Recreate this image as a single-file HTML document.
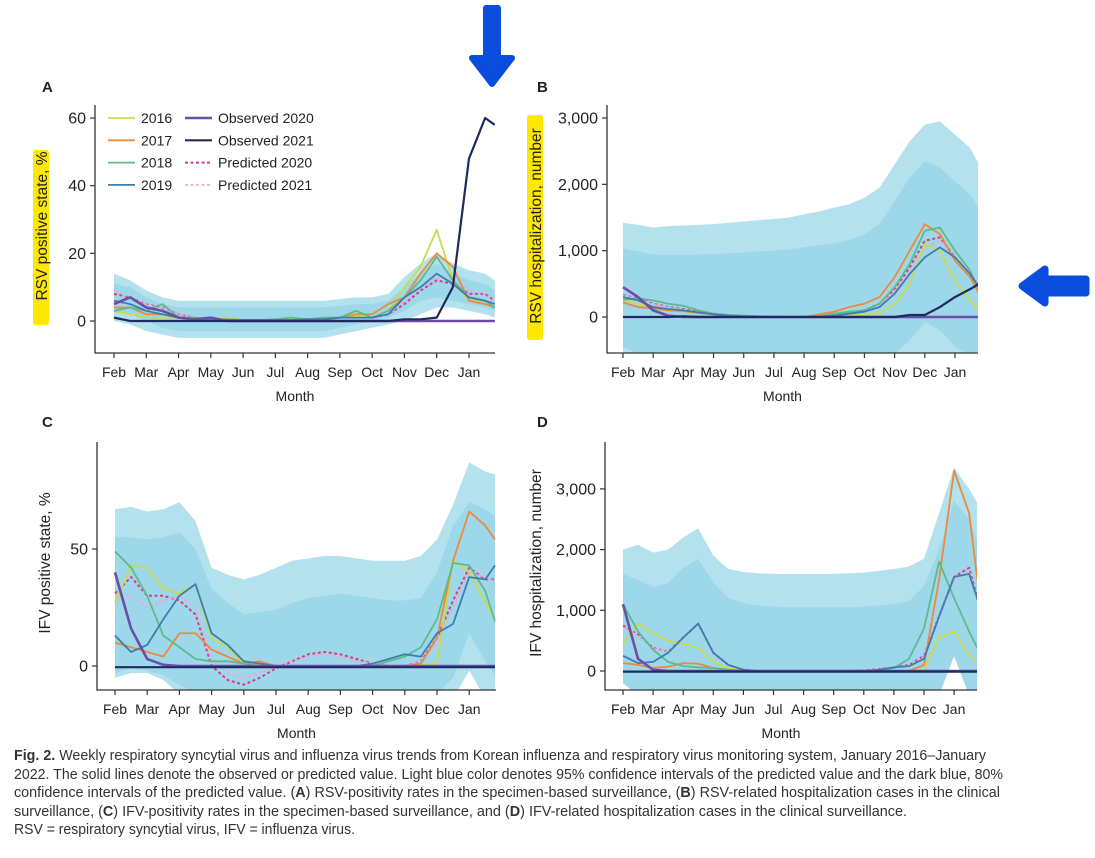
<!DOCTYPE html>
<html><head><meta charset="utf-8">
<style>
body{margin:0;background:#fff;width:1095px;height:858px;overflow:hidden;font-family:"Liberation Sans",sans-serif;}
#cap{position:absolute;left:14px;top:747px;width:1070px;font-family:"Liberation Sans Narrow","Liberation Sans",sans-serif;font-size:14.5px;line-height:18.6px;color:#333;}
#cap .ln{white-space:nowrap;transform-origin:0 0;height:18.6px;}
</style></head><body>
<svg id="fig" width="1095" height="858" style="position:absolute;left:0;top:0"></svg>
<div id="cap">
<div class="ln" data-w="986"><b>Fig. 2.</b> Weekly respiratory syncytial virus and influenza virus trends from Korean influenza and respiratory virus monitoring system, January 2016–January</div>
<div class="ln" data-w="1003">2022. The solid lines denote the observed or predicted value. Light blue color denotes 95% confidence intervals of the predicted value and the dark blue, 80%</div>
<div class="ln" data-w="1000">confidence intervals of the predicted value. (<b>A</b>) RSV-positivity rates in the specimen-based surveillance, (<b>B</b>) RSV-related hospitalization cases in the clinical</div>
<div class="ln" data-w="907">surveillance, (<b>C</b>) IFV-positivity rates in the specimen-based surveillance, and (<b>D</b>) IFV-related hospitalization cases in the clinical surveillance.</div>
<div class="ln" data-w="355">RSV = respiratory syncytial virus, IFV = influenza virus.</div>
</div>
<script>
const months=[0,0.5,1,1.5,2,2.5,3,3.5,4,4.5,5,5.5,6,6.5,7,7.5,8,8.5,9,9.5,10,10.5,11,11.5,11.8];
const monthLabels=["Feb","Mar","Apr","May","Jun","Jul","Aug","Sep","Oct","Nov","Dec","Jan"];
// Panel A
const A_up95=[14,12,9,7,6,6,6,6,6,6,6,6,6,6,6.5,7,7,8,13,17,20,17,15,14,12];
const A_up80=[11,10,7,5,4,4,4,4,4,4,4,4,4,4,4.5,5,5,6,10,14,17,14,12,11,9];
const A_lo80=[3,2,0,-2,-3,-3,-3,-3,-3,-3,-3,-3,-3,-3,-2,-1,0,1,3,6,7,6,5,4,3];
const A_lo95=[0,-1,-3,-4,-5,-5,-5,-5,-5,-5,-5,-5,-5,-5,-4,-3,-2,-1,0,2,4,4,3,2,1];
const A_2016=[3,2,1,1,1,1,0.5,1,0.3,0.3,0.3,0.5,0.5,1,1,1.5,1,3,10,16,27,12,6,6,4];
const A_2017=[4,4,2,2,1,1,0.5,0.5,0.3,0.3,0.3,0.3,0.3,0.5,1,2,2,5,7,14,20,16,6,5,4];
const A_2018=[3,4,3,5,1,1,0.5,0.5,0.3,0.3,0.5,1,0.5,1,1,3,1,3,7,12,19,12,7,6,4];
const A_2019=[6,5,3,2,1,0.5,0.3,0.3,0.3,0.3,0.3,0.3,0.5,0.5,1,1,1,2,7,10,14,11,7,6,5];
const A_obs20=[5,7,4,3,1,0.5,1,0,0,0,0,0,0,0,0,0,0,0,0,0,0,0,0,0,0];
const A_obs21=[1,0,0,0,0,0,0,0,0,0,0,0,0,0,0,0,0,0,0.5,0.5,1,10,48,60,58];
const A_pred20=[8,7,5,4,2,1,0.5,0.5,0.3,0.3,0.3,0.3,0.3,0.5,1,1.5,1,2,5,9,12,11,8,8,6];
const A_pred21=[9,7,5,4,2,1,0.5,0.5,0.3,0.3,0.3,0.3,0.3,0.5,1,1.5,1,2,6,10,13,12,9,8,6];
const A_ticks=[0,20,40,60];
// Panel B
const B_up95=[1420,1390,1350,1370,1380,1390,1400,1420,1440,1460,1480,1500,1550,1590,1650,1700,1800,1950,2300,2650,2900,2950,2750,2550,2300];
const B_up80=[1030,990,940,940,940,940,950,960,970,990,1000,1020,1050,1080,1110,1160,1250,1400,1750,2100,2350,2250,2050,1850,1650];
const B_lo80=[-450,-550,-560,-560,-560,-560,-560,-560,-560,-560,-560,-560,-560,-560,-560,-560,-560,-560,-560,-350,-80,-200,-450,-560,-560];
const B_lo95=[-600,-600,-600,-600,-600,-600,-600,-600,-600,-600,-600,-600,-600,-600,-600,-600,-600,-600,-600,-600,-600,-600,-600,-600,-600];
const B_2016=[250,200,120,100,80,60,40,30,20,10,5,0,0,0,0,20,40,60,200,500,1100,1000,550,250,100];
const B_2017=[220,150,130,100,90,60,40,30,20,10,5,0,0,40,80,150,200,300,600,1000,1400,1250,850,600,350];
const B_2018=[260,280,250,200,170,100,50,30,20,10,5,0,0,10,50,80,100,200,450,800,1300,1350,1000,700,400];
const B_2019=[300,250,150,120,100,70,40,20,10,5,0,0,0,5,20,50,80,150,350,650,900,1050,900,650,450];
const B_obs20=[450,300,100,20,0,0,0,0,0,0,0,0,0,0,0,0,0,0,0,0,0,0,0,0,0];
const B_obs21=[0,0,0,0,10,0,0,0,0,0,0,0,0,0,0,0,0,0,0,30,30,150,300,420,500];
const B_pred20=[330,280,200,150,120,80,50,30,15,10,5,0,0,10,30,60,100,200,400,750,1150,1200,900,650,400];
const B_pred21=[320,270,190,140,110,70,45,25,12,8,5,0,0,10,30,60,100,180,380,700,1050,1150,900,600,380];
const B_ticks=[0,1000,2000,3000];
// Panel C
const C_up95=[67,68,66,67,70,62,42,39,37,39,42,45,46,47,47,46,45,45,45,47,54,69,87,83,82];
const C_up80=[55,55,54,55,57,50,33,27,22,23,24,27,29,30,31,30,29,28,28,29,40,60,70,67,64];
const C_lo80=[-3,-1,-2,-4,-8,-12,-12,-12,-12,-12,-12,-12,-12,-12,-12,-12,-12,-12,-12,-12,-12,-5,14,2,-4];
const C_lo95=[-5,-3,-3,-6,-12,-14,-14,-14,-14,-14,-14,-14,-14,-14,-14,-14,-14,-14,-14,-14,-14,-14,-2,-14,-14];
const C_2016=[27,43,42,33,31,35,12,8,1,1,0,0,0,0,0,0,0,0,0,0,1,45,40,27,20];
const C_2017=[10,8,6,4,14,14,7,4,1,2,0,0,0,0,0,0,0,0,0,1,12,45,66,60,54];
const C_2018=[49,42,30,13,8,3,2,2,1,0,0,0,0,0,0,0,0,2,4,8,20,44,43,32,19];
const C_2019=[13,6,9,20,30,35,14,9,2,1,0,0,0,0,0,0,1,3,5,4,14,18,38,37,43];
const C_obs20=[40,16,3,0.5,0,0,0,0,0,0,0,0,0,0,0,0,0,0,0,0,0,0,0,0,0];
const C_obs21=[-0.5,-0.5,-0.5,-0.5,-0.5,-0.5,-0.5,-0.5,-0.5,-0.5,-0.5,-0.5,-0.5,-0.5,-0.5,-0.5,-0.5,-0.5,-0.5,-0.5,-0.5,-0.5,-0.5,-0.5,-0.5];
const C_pred20=[31,38,30,30,28,22,0,-6,-8,-5,-1,2,5,6,5,3,1,0,0,2,12,28,42,37,37];
const C_pred21=[30,30,25,28,30,25,3,-3,-5,-3,0,2,4,5,4,2,1,0,0,2,10,25,40,38,36];
const C_ticks=[0,50];
// Panel D
const D_up95=[2000,2080,1950,2000,2200,2350,1900,1680,1630,1610,1600,1600,1600,1600,1600,1610,1620,1650,1680,1720,1850,2600,3350,3000,2750];
const D_up80=[1600,1500,1380,1450,1700,1850,1450,1200,1120,1080,1060,1050,1050,1050,1050,1050,1060,1080,1100,1150,1400,2000,2800,2500,2100];
const D_lo80=[-200,-400,-400,-400,-400,-400,-400,-400,-400,-400,-400,-400,-400,-400,-400,-400,-400,-400,-400,-400,-400,-400,250,-400,-400];
const D_lo95=[-200,-400,-400,-400,-400,-400,-400,-400,-400,-400,-400,-400,-400,-400,-400,-400,-400,-400,-400,-400,-400,-400,250,-400,-400];
const D_2016=[450,780,620,500,450,380,150,50,10,0,0,0,0,0,0,0,0,0,0,0,20,550,650,250,130];
const D_2017=[130,100,50,70,130,120,50,20,0,0,0,0,0,0,0,0,0,0,0,0,100,1500,3300,2600,1400];
const D_2018=[1100,650,350,150,80,60,50,20,0,0,0,0,0,0,0,0,0,0,50,200,700,1800,1200,650,350];
const D_2019=[250,130,150,300,550,780,300,100,20,0,0,0,0,0,0,0,0,20,60,80,200,900,1550,1600,1150];
const D_obs20=[1100,200,20,0,0,0,0,0,0,0,0,0,0,0,0,0,0,0,0,0,0,0,0,0,0];
const D_obs21=[-10,-10,-10,-10,-10,-10,-10,-10,-10,-10,-10,-10,-10,-10,-10,-10,-10,-10,-10,-10,-10,-10,-10,-10,-10];
const D_pred20=[750,600,380,320,550,780,300,100,20,0,0,0,0,0,0,0,10,30,60,100,250,900,1550,1700,1150];
const D_pred21=[720,580,370,320,540,770,290,100,20,0,0,0,0,0,0,0,10,30,60,100,240,880,1500,1650,1130];
const D_ticks=[0,1000,2000,3000];

const NS="http://www.w3.org/2000/svg";
const svg=document.getElementById('fig');
function mk(tag,attrs,parent){const e=document.createElementNS(NS,tag);for(const k in attrs)e.setAttribute(k,attrs[k]);(parent||svg).appendChild(e);return e;}
const COL={y2016:"#c9db4c",y2017:"#f0883a",y2018:"#5cbb8c",y2019:"#3d7db3",o20:"#6b4fa6",o21:"#1e2a60",p20:"#d93b8c",p21:"#f2a6cc"};
const panels=[
 {id:"a",letter:"A",lx:42,ly:92,left:95,top:105,bottom:353,right:495,xF:114,dx:32.27,y0:321,ky:3.383,ticks:A_ticks,fmt:v=>String(v),title:"RSV positive state, %",tx:47,hl:true,
  up95:A_up95,up80:A_up80,lo80:A_lo80,lo95:A_lo95,s:[A_2016,A_2017,A_2018,A_2019,A_obs20,A_obs21,A_pred20,A_pred21]},
 {id:"b",letter:"B",lx:537,ly:92,left:607,top:105,bottom:353,right:978,xF:623,dx:30.18,y0:317,ky:0.06633,ticks:B_ticks,fmt:v=>v.toLocaleString('en-US'),title:"RSV hospitalization, number",tx:541,hl:true,
  up95:B_up95,up80:B_up80,lo80:B_lo80,lo95:B_lo95,s:[B_2016,B_2017,B_2018,B_2019,B_obs20,B_obs21,B_pred20,B_pred21]},
 {id:"c",letter:"C",lx:42,ly:427,left:97,top:442,bottom:690,right:496,xF:115,dx:32.2,y0:666,ky:2.34,ticks:C_ticks,fmt:v=>String(v),title:"IFV positive state, %",tx:50,
  up95:C_up95,up80:C_up80,lo80:C_lo80,lo95:C_lo95,s:[C_2016,C_2017,C_2018,C_2019,C_obs20,C_obs21,C_pred20,C_pred21]},
 {id:"d",letter:"D",lx:537,ly:427,left:605,top:442,bottom:690,right:977,xF:623,dx:30.1,y0:671,ky:0.0607,ticks:D_ticks,fmt:v=>v.toLocaleString('en-US'),title:"IFV hospitalization, number",tx:541,
  up95:D_up95,up80:D_up80,lo80:D_lo80,lo95:D_lo95,s:[D_2016,D_2017,D_2018,D_2019,D_obs20,D_obs21,D_pred20,D_pred21]}
];
const styles=[
 {c:COL.y2016,w:1.8},{c:COL.y2017,w:1.8},{c:COL.y2018,w:1.8},{c:COL.y2019,w:1.8},
 {c:COL.o20,w:2.6},{c:COL.o21,w:2.2},{c:COL.p20,w:2,d:"3,2.5"},{c:COL.p21,w:1.6,d:"3,2.5"}];
const sNames=["line-2016","line-2017","line-2018","line-2019","line-observed-2020","line-observed-2021","line-predicted-2020","line-predicted-2021"];
const drawOrder=[6,7,0,1,2,3,4,5];
panels.forEach(p=>{
 const X=m=>p.xF+m*p.dx, Y=v=>p.y0-v*p.ky;
 const g=mk('g',{});
 
 
 const cp=mk('clipPath',{id:'clip'+p.id},g);
 mk('rect',{x:p.left,y:p.top,width:p.right-p.left,height:p.bottom-p.top},cp);
 const pg=mk('g',{'clip-path':'url(#clip'+p.id+')'},g);
 function band(up,lo,fill,name){
  let d="M"+months.map((m,i)=>X(m)+","+Y(up[i])).join("L");
  for(let i=months.length-1;i>=0;i--) d+="L"+X(months[i])+","+Y(lo[i]);
  const e=mk('path',{d:d+"Z",fill:fill},pg);
  
  
 }
 band(p.up95,p.lo95,"#b4e1ee","ci-95-band");
 band(p.up80,p.lo80,"#9dd7ea","ci-80-band");
 drawOrder.forEach(k=>{
  const st=styles[k];
  const d="M"+months.map((m,i)=>X(m)+","+Y(p.s[k][i])).join("L");
  const e=mk('path',{d:d,fill:"none",stroke:st.c,'stroke-width':st.w,'stroke-linejoin':'round'},pg);
  if(st.d)e.setAttribute('stroke-dasharray',st.d);
  
  
 });
 const ax=mk('path',{d:`M${p.left},${p.top}V${p.bottom}H${p.right}`,fill:'none',stroke:'#333','stroke-width':1.3},g);
 
 
 p.ticks.forEach(v=>{
  mk('line',{x1:p.left-5,x2:p.left,y1:Y(v),y2:Y(v),stroke:'#333','stroke-width':1.2},g);
  const t=mk('text',{x:p.left-9,y:Y(v)+5.5,'text-anchor':'end','font-size':16,fill:'#222'},g);
  t.textContent=p.fmt(v);
  
  
 });
 monthLabels.forEach((lab,i)=>{
  mk('line',{x1:X(i),x2:X(i),y1:p.bottom,y2:p.bottom+5,stroke:'#333','stroke-width':1.2},g);
  const t=mk('text',{x:X(i),y:p.bottom+24,'text-anchor':'middle','font-size':14,fill:'#222'},g);
  t.textContent=lab;
  
  
 });
 const xt=mk('text',{x:(p.left+p.right)/2+(p.id==='a'||p.id==='c'?0:-10),y:p.bottom+48,'text-anchor':'middle','font-size':14,fill:'#222'},g);
 xt.textContent="Month";
 
 
 const cy=(p.top+p.bottom)/2-3;
 if(p.hl){
  const hl=mk('rect',{x:p.tx-14,y:p.id==='a'?150:115,width:16,height:p.id==='a'?175:225,fill:'#ffe800',rx:3},g);
  
  
 }
 const yt=mk('text',{x:p.tx,y:cy,'text-anchor':'middle','font-size':15.5,fill:'#222',transform:`rotate(-90 ${p.tx} ${cy})`},g);
 yt.textContent=p.title;
 
 
 const pl=mk('text',{x:p.lx,y:p.ly,'font-size':15,'font-weight':'bold',fill:'#222'},g);
 pl.textContent=p.letter;
 
 
});
const legNames=["2016","2017","2018","2019","Observed 2020","Observed 2021","Predicted 2020","Predicted 2021"];
const leg=mk('g',{});


legNames.forEach((n,k)=>{
 const col=k<4?0:1, row=k%4;
 const x=col?185:108, y=118+row*22.3;
 const st=styles[k];
 const l=mk('line',{x1:x,x2:x+27,y1:y,y2:y,stroke:st.c,'stroke-width':st.w},leg);
 if(st.d)l.setAttribute('stroke-dasharray',st.d);
 const t=mk('text',{x:x+33,y:y+5,'font-size':14,fill:'#222'},leg);
 t.textContent=n;
 
 
});
const a1=mk('path',{d:"M486,8 L498,8 L498,58 L512,58 L492,84 L472,58 L486,58 Z",fill:'#0a4ddc',stroke:'#0a4ddc','stroke-width':6,'stroke-linejoin':'round'});


const a2=mk('path',{d:"M1086,279 L1086,293 L1045,293 L1045,303 L1022,286 L1045,269 L1045,279 Z",fill:'#0a4ddc',stroke:'#0a4ddc','stroke-width':7,'stroke-linejoin':'round'});


// fit caption lines to the condensed widths of the reference
document.querySelectorAll('#cap .ln').forEach(ln=>{
 ln.style.display='inline-block';
 const w=ln.getBoundingClientRect().width;
 ln.style.display='block';
 const target=+ln.getAttribute('data-w')-14;
 if(w>0) ln.style.transform='scaleX('+(target/w)+')';
});
</script>
</body></html>
